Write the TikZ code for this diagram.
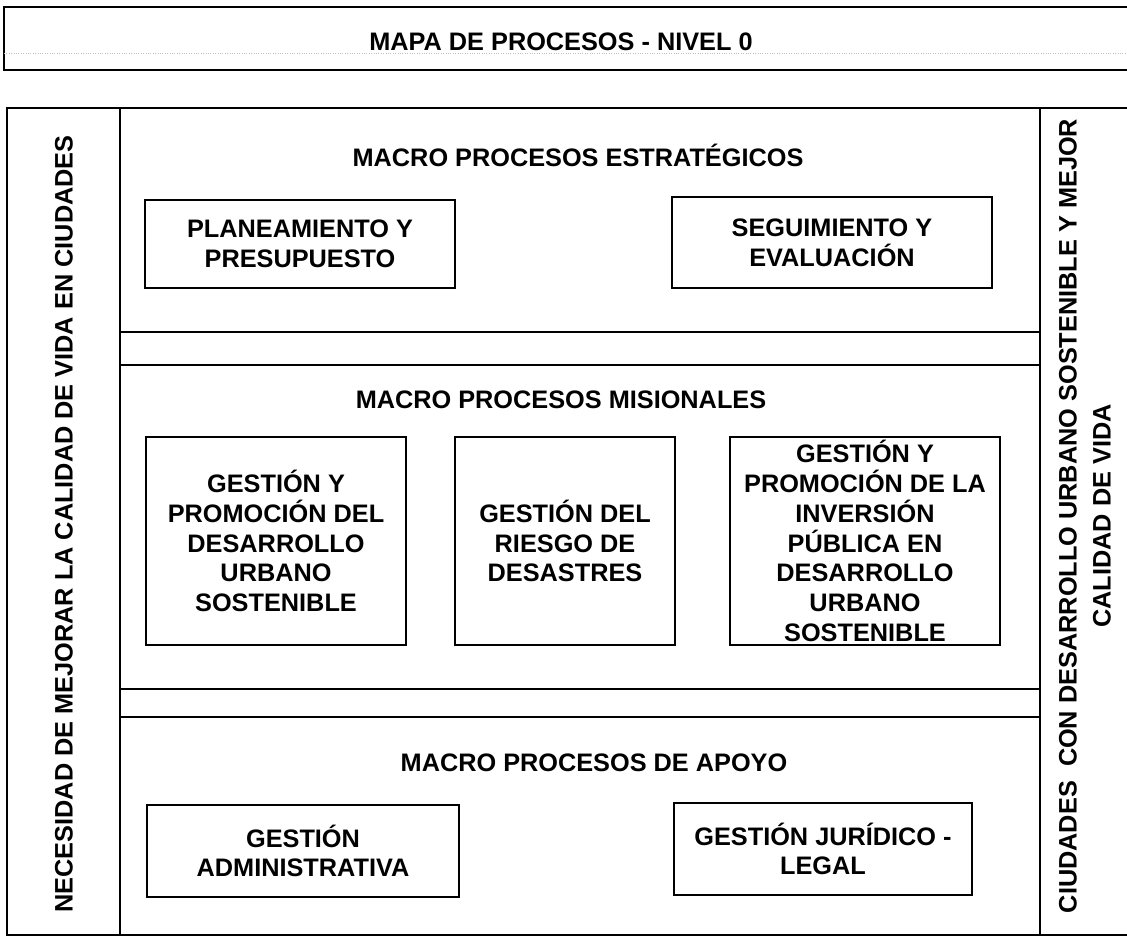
\documentclass[tikz,border=0pt]{standalone}
\usepackage{fontspec}
\setmainfont{Liberation Sans}
\newcommand{\mapfont}{\fontsize{25.3}{29.8}\selectfont\bfseries}

\begin{document}
\begin{tikzpicture}[x=1pt, y=-1pt,
	frame/.style={line width=1.6pt},
	procbox/.style={draw, line width=1.3pt, align=center, font=\mapfont, inner sep=0pt},
	sectitle/.style={font=\mapfont},
	sidetext/.style={font=\mapfont, rotate=90, align=center}]

	\useasboundingbox (0,0) rectangle (1127,937);
	\clip (0,0) rectangle (1127,937);

	% header bar
	\draw[line width=2.2pt] (4,7) rectangle (1145,70);
	\draw[gray!50, dotted] (4,53) -- (1145,53);
	\node[sectitle] (head) at (561,42) {MAPA DE PROCESOS - NIVEL 0};

	% main frame and columns
	\draw[frame] (7,108) rectangle (1145,935);
	\draw[frame] (120,108) -- (120,935);
	\draw[frame] (1040,108) -- (1040,935);

	% separating strips
	\foreach \y in {332,365,689,717}
		\draw[frame] (120,\y) -- (1040,\y);

	% side texts
	\node[sidetext] (need) at (64,524) {NECESIDAD DE MEJORAR LA CALIDAD DE VIDA EN CIUDADES};
	\node[sidetext, font=\fontsize{25.3}{34}\selectfont\bfseries] (goal) at (1085,516)
		{CIUDADES\ \ CON DESARROLLO URBANO SOSTENIBLE Y MEJOR\\CALIDAD DE VIDA};

	% strategic
	\node[sectitle] (estr) at (578,155) {MACRO PROCESOS ESTRAT\'EGICOS};
	\node[procbox, minimum width=310, minimum height=88] (plan) at (300,244) {PLANEAMIENTO Y\\PRESUPUESTO};
	\node[procbox, minimum width=320, minimum height=91] (segu) at (832,242.5) {SEGUIMIENTO Y\\EVALUACI\'ON};

	% missional
	\node[sectitle] (misi) at (561,400) {MACRO PROCESOS MISIONALES};
	\node[procbox, minimum width=260, minimum height=208] (urb) at (276,541)
		{GESTI\'ON Y\\PROMOCI\'ON DEL\\DESARROLLO\\URBANO\\SOSTENIBLE};
	\node[procbox, minimum width=220, minimum height=208] (risk) at (565,541)
		{GESTI\'ON DEL\\RIESGO DE\\DESASTRES};
	\node[procbox, minimum width=270, minimum height=208] (inv) at (865,541)
		{GESTI\'ON Y\\PROMOCI\'ON DE LA\\INVERSI\'ON\\P\'UBLICA EN\\DESARROLLO\\URBANO\\SOSTENIBLE};

	% support
	\node[sectitle] (apoy) at (594,763) {MACRO PROCESOS DE APOYO};
	\node[procbox, minimum width=312, minimum height=92] (adm) at (303,851) {GESTI\'ON\\ADMINISTRATIVA};
	\node[procbox, minimum width=298, minimum height=92] (jur) at (823,849) {GESTI\'ON JUR\'IDICO -\\LEGAL};

\end{tikzpicture}
\end{document}
